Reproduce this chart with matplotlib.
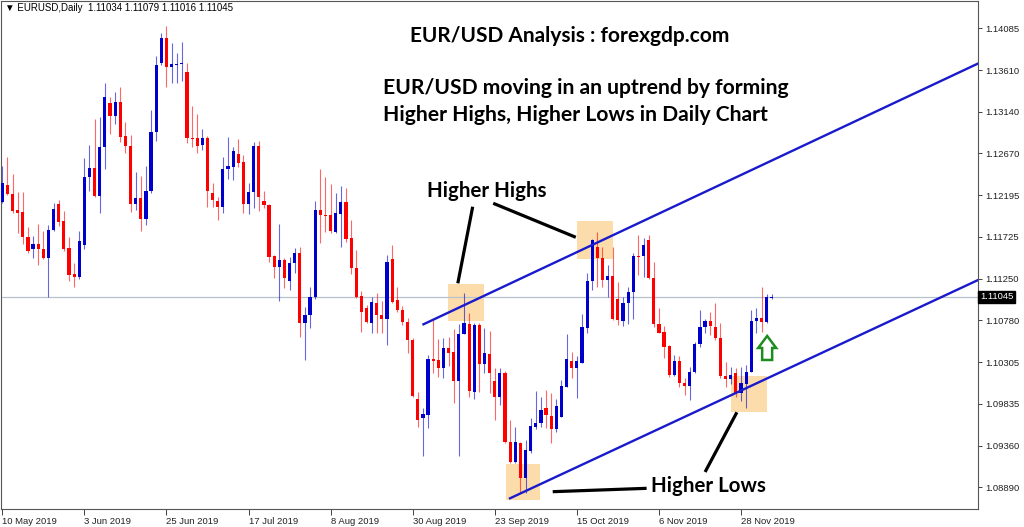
import numpy as np
import matplotlib
matplotlib.use("Agg")
import matplotlib.pyplot as plt
import matplotlib.transforms as mtransforms
from matplotlib.patches import Rectangle, Polygon

# EURUSD daily candles, 10 May 2019 .. 6 Dec 2019
opens = [
    1.1212, 1.1231, 1.1221, 1.1203, 1.1200, 1.1172, 1.1159, 1.1164, 1.1159, 1.1148,
    1.1180, 1.1210, 1.1190, 1.1160, 1.1130, 1.1127, 1.1163, 1.1240, 1.1250, 1.1219,
    1.1274, 1.1324, 1.1309, 1.1325, 1.1287, 1.1275, 1.1210, 1.1216, 1.1193, 1.1224,
    1.1291, 1.1369, 1.1398, 1.1365, 1.1367, 1.1368, 1.1359, 1.1284, 1.1284, 1.1276,
    1.1284, 1.1222, 1.1213, 1.1206, 1.1249, 1.1251, 1.1266, 1.1257, 1.1210, 1.1223,
    1.1275, 1.1213, 1.1208, 1.1151, 1.1138, 1.1146, 1.1122, 1.1143, 1.1154, 1.1075,
    1.1084, 1.1104, 1.1203, 1.1197, 1.1197, 1.1178, 1.1198, 1.1212, 1.1171, 1.1137,
    1.1105, 1.1092, 1.1075, 1.1097, 1.1084, 1.1079, 1.1147, 1.1101, 1.1090, 1.1076,
    1.1056, 1.0989, 1.0967, 1.0971, 1.1034, 1.1033, 1.1024, 1.1047, 1.1042, 1.1009,
    1.1062, 1.1074, 1.0997, 1.1073, 1.1028, 1.1040, 1.1009, 1.0991, 1.1018, 1.0940,
    1.0917, 1.0939, 1.0899, 1.0930, 1.0957, 1.0962, 1.0979, 1.0970, 1.0955, 1.0969,
    1.1002, 1.1032, 1.1024, 1.1030, 1.1069, 1.1122, 1.1161, 1.1148, 1.1123, 1.1128,
    1.1102, 1.1077, 1.1097, 1.1110, 1.1151, 1.1151, 1.1169, 1.1126, 1.1074, 1.1065,
    1.1049, 1.1016, 1.1032, 1.1007, 1.1003, 1.1019, 1.1051, 1.1070, 1.1077, 1.1070,
    1.1058, 1.1015, 1.1011, 1.1018, 1.0996, 1.1006, 1.1019, 1.1077, 1.1080, 1.1076,
    1.11034,
]
highs = [
    1.1253, 1.1263, 1.1244, 1.1223, 1.1223, 1.1184, 1.1173, 1.1187, 1.1179, 1.1186,
    1.1211, 1.1214, 1.1202, 1.1172, 1.1143, 1.1179, 1.1262, 1.1276, 1.1306, 1.1308,
    1.1347, 1.1331, 1.1336, 1.1342, 1.1302, 1.1288, 1.1246, 1.1241, 1.1253, 1.1316,
    1.1377, 1.1403, 1.1411, 1.1392, 1.1380, 1.1393, 1.1369, 1.1320, 1.1311, 1.1294,
    1.1287, 1.1233, 1.1218, 1.1263, 1.1285, 1.1274, 1.1283, 1.1265, 1.1233, 1.1280,
    1.1281, 1.1224, 1.1210, 1.1152, 1.1187, 1.1148, 1.1150, 1.1160, 1.1161, 1.1093,
    1.1116, 1.1213, 1.1249, 1.1240, 1.1232, 1.1222, 1.1230, 1.1228, 1.1191, 1.1157,
    1.1111, 1.1095, 1.1104, 1.1109, 1.1100, 1.1152, 1.1163, 1.1116, 1.1094, 1.1081,
    1.1058, 1.0997, 1.0979, 1.1039, 1.1078, 1.1057, 1.1058, 1.1059, 1.1068, 1.1074,
    1.1109, 1.1086, 1.1075, 1.1075, 1.1069, 1.1066, 1.1024, 1.1024, 1.1021, 1.0965,
    1.0957, 1.0940, 1.0942, 1.0967, 1.0998, 1.0991, 1.0999, 1.0996, 1.0989, 1.1010,
    1.1062, 1.1042, 1.1037, 1.1085, 1.1131, 1.1170, 1.1178, 1.1161, 1.1140, 1.1161,
    1.1121, 1.1104, 1.1116, 1.1154, 1.1174, 1.1171, 1.1174, 1.1144, 1.1092, 1.1071,
    1.1050, 1.1039, 1.1037, 1.1013, 1.1025, 1.1053, 1.1090, 1.1079, 1.1087, 1.1097,
    1.1075, 1.1031, 1.1025, 1.1024, 1.1025, 1.1027, 1.1090, 1.1092, 1.1116, 1.1108,
    1.11079,
]
lows = [
    1.1211, 1.1220, 1.1199, 1.1177, 1.1164, 1.1154, 1.1148, 1.1140, 1.1147, 1.1104,
    1.1179, 1.1185, 1.1156, 1.1122, 1.1116, 1.1125, 1.1159, 1.1224, 1.1218, 1.1199,
    1.1249, 1.1289, 1.1300, 1.1280, 1.1267, 1.1200, 1.1203, 1.1179, 1.1186, 1.1222,
    1.1281, 1.1367, 1.1342, 1.1347, 1.1347, 1.1349, 1.1279, 1.1274, 1.1267, 1.1271,
    1.1206, 1.1206, 1.1191, 1.1199, 1.1238, 1.1237, 1.1251, 1.1199, 1.1198, 1.1205,
    1.1202, 1.1205, 1.1144, 1.1126, 1.1100, 1.1115, 1.1112, 1.1131, 1.1059, 1.1033,
    1.1069, 1.1102, 1.1165, 1.1178, 1.1177, 1.1177, 1.1161, 1.1167, 1.1130, 1.1103,
    1.1065, 1.1075, 1.1063, 1.1063, 1.1063, 1.1050, 1.1097, 1.1087, 1.1073, 1.1041,
    1.0991, 1.0957, 1.0924, 1.0956, 1.1018, 1.1014, 1.1013, 1.1026, 1.0984, 1.0924,
    1.1062, 1.0991, 1.0989, 1.0997, 1.1018, 1.0996, 1.0965, 1.0982, 1.0939, 1.0916,
    1.0916, 1.0884, 1.0882, 1.0928, 1.0955, 1.0957, 1.0956, 1.0939, 1.0951, 1.0969,
    1.1002, 1.1013, 1.0990, 1.1030, 1.1063, 1.1112, 1.1116, 1.1116, 1.1104, 1.1078,
    1.1073, 1.1071, 1.1074, 1.1079, 1.1129, 1.1127, 1.1125, 1.1070, 1.1063, 1.1035,
    1.1014, 1.1015, 1.1002, 1.0993, 1.0988, 1.1018, 1.1048, 1.1063, 1.1061, 1.1056,
    1.1013, 1.1002, 1.1006, 1.0991, 1.0987, 1.0979, 1.1019, 1.1063, 1.1065, 1.1075,
    1.11016,
]
closes = [
    1.1233, 1.1221, 1.1202, 1.1199, 1.1172, 1.1156, 1.1164, 1.1159, 1.1148, 1.1180,
    1.1204, 1.1189, 1.1159, 1.1129, 1.1127, 1.1168, 1.1240, 1.1250, 1.1219, 1.1274,
    1.1331, 1.1309, 1.1325, 1.1285, 1.1275, 1.1210, 1.1216, 1.1193, 1.1224, 1.1291,
    1.1367, 1.1398, 1.1365, 1.1368, 1.1368, 1.1369, 1.1284, 1.1283, 1.1275, 1.1284,
    1.1224, 1.1214, 1.1206, 1.1249, 1.1253, 1.1270, 1.1256, 1.1210, 1.1223, 1.1275,
    1.1218, 1.1208, 1.1150, 1.1138, 1.1146, 1.1126, 1.1143, 1.1154, 1.1075, 1.1084,
    1.1104, 1.1203, 1.1197, 1.1196, 1.1179, 1.1199, 1.1212, 1.1170, 1.1137, 1.1104,
    1.1087, 1.1076, 1.1099, 1.1084, 1.1079, 1.1144, 1.1099, 1.1090, 1.1076, 1.1056,
    1.0992, 1.0965, 1.0972, 1.1034, 1.1032, 1.1024, 1.1047, 1.1041, 1.1009, 1.1062,
    1.1075, 1.0998, 1.1073, 1.1028, 1.1041, 1.1018, 1.0991, 1.1018, 1.0940, 1.0917,
    1.0940, 1.0899, 1.0931, 1.0958, 1.0962, 1.0976, 1.0971, 1.0955, 1.0981, 1.1003,
    1.1034, 1.1024, 1.1032, 1.1070, 1.1122, 1.1169, 1.1148, 1.1123, 1.1128, 1.1079,
    1.1078, 1.1097, 1.1110, 1.1151, 1.1150, 1.1163, 1.1126, 1.1074, 1.1063, 1.1048,
    1.1016, 1.1032, 1.1007, 1.1003, 1.1019, 1.1051, 1.1070, 1.1077, 1.1071, 1.1058,
    1.1015, 1.1011, 1.1016, 1.0996, 1.1007, 1.1019, 1.1077, 1.1080, 1.1076, 1.1104,
    1.11045,
]

date_labels = ["10 May 2019", "3 Jun 2019", "25 Jun 2019", "17 Jul 2019", "8 Aug 2019",
               "30 Aug 2019", "23 Sep 2019", "15 Oct 2019", "6 Nov 2019", "28 Nov 2019"]
date_every = 16  # one label every 16 bars

price_ticks = [1.14085, 1.13610, 1.13140, 1.12670, 1.12195, 1.11725,
               1.11250, 1.10780, 1.10305, 1.09835, 1.09360, 1.08890]
last_price = 1.11045

o = np.array(opens)
h = np.array(highs)
l = np.array(lows)
c = np.array(closes)
idx = np.arange(len(o))

BLUE = "#0000cc"
RED = "#ff0000"
colors = np.where(c >= o, BLUE, RED)

fig = plt.figure(figsize=(10.24, 5.27), dpi=100)
ax = fig.add_axes([1 / 1024, 18 / 527, 977 / 1024, 508 / 527])
ax.set_xlim(-0.25, 190.2)
ax.set_ylim(1.08643, 1.14394)

# highlight boxes (behind candles)
boxes = [(86.9, 1.10775, 7.1, 0.00415),
         (112.0, 1.11473, 7.0, 0.00427),
         (98.1, 1.08745, 6.8, 0.00404),
         (142.0, 1.09738, 7.0, 0.00414)]
for bx, by, bw, bh in boxes:
    ax.add_patch(Rectangle((bx, by), bw, bh, facecolor="#fddcab", edgecolor="none", zorder=1))

# current price line
ax.axhline(last_price, color="#b8c2cc", lw=0.9, zorder=1.5)

# candles
ax.vlines(idx, l, h, colors=colors, lw=0.8, alpha=0.6, zorder=2)
body_low = np.minimum(o, c)
body_h = np.maximum(np.abs(c - o), 0.00008)
ax.bar(idx, body_h, bottom=body_low, width=0.62, color=colors, edgecolor="none", zorder=3)

# trend channel
ax.plot([82.1, 190.2], [1.10734, 1.13686], color="#1a1acd", lw=1.7, zorder=4)
ax.plot([98.97, 190.2], [1.08764, 1.11235], color="#1a1acd", lw=1.7, zorder=4)

# pointer lines
pointers = [([91.7, 88.8], [1.12065, 1.11198]),
            ([95.7, 111.8], [1.12104, 1.11719]),
            ([107.3, 125.6], [1.08839, 1.08877]),
            ([137.0, 143.2], [1.09062, 1.09738])]
for px_, py_ in pointers:
    ax.plot(px_, py_, color="black", lw=2.3, solid_capstyle="butt", zorder=5)

font_bold = dict(family=["Lato", "DejaVu Sans"], fontweight="bold", color="black")
ax.text(94.4, 1.12240, "Higher Highs", ha="center", va="center", fontsize=14.8, zorder=6, **font_bold)
ax.text(126.4, 1.08905, "Higher Lows", ha="left", va="center", fontsize=14.8, zorder=6, **font_bold)

# green up arrow (hollow)
arrow = np.array([[0, 12], [-9, 0], [-5, 0], [-5, -12], [5, -12], [5, 0], [9, 0]]) / 100.0
trans = fig.dpi_scale_trans + mtransforms.ScaledTranslation(149.1, 1.10466, ax.transData)
ax.add_patch(Polygon(arrow, closed=True, facecolor="white", edgecolor="#1e8c1e",
                     lw=1.8, joinstyle="miter", transform=trans, zorder=6))

# titles
def fx(x):
    return x / 1024

def fy(y):
    return 1 - y / 527

fig.text(fx(410), fy(36), "EUR/USD Analysis : forexgdp.com", ha="left", va="center",
         fontsize=15, **font_bold)
fig.text(fx(383), fy(88), "EUR/USD moving in an uptrend by forming", ha="left", va="center",
         fontsize=15.2, **font_bold)
fig.text(fx(383), fy(115), "Higher Highs, Higher Lows in Daily Chart", ha="left", va="center",
         fontsize=15.2, **font_bold)

small = ["Liberation Sans", "DejaVu Sans"]
fig.text(fx(5), fy(8), "\u25bc EURUSD,Daily  1.11034 1.11079 1.11016 1.11045",
         ha="left", va="center", fontsize=7, family=small)

# axes styling, MT4 look
for side in ["left", "right", "bottom", "top"]:
    ax.spines[side].set_color("#555555")
    ax.spines[side].set_linewidth(0.8)

ax.yaxis.tick_right()
ax.set_yticks(price_ticks)
ax.set_yticklabels([f"{p:.5f}" for p in price_ticks], fontsize=6.8, family=small)
ax.tick_params(axis="y", length=3, width=0.6, pad=2, colors="#222222")

ax.set_xticks(np.arange(len(date_labels)) * date_every)
ax.set_xticklabels(date_labels, fontsize=6.8, family=small, ha="left")
ax.tick_params(axis="x", length=4, width=0.6, pad=2, colors="#222222")

ax.text(1.002, last_price, f"{last_price:.5f}", transform=mtransforms.blended_transform_factory(ax.transAxes, ax.transData),
        ha="left", va="center", fontsize=6.8, family=small, color="white",
        bbox=dict(facecolor="black", edgecolor="black", pad=1.2), zorder=7, clip_on=False)

fig.savefig("out.png", dpi=100, facecolor="white")
